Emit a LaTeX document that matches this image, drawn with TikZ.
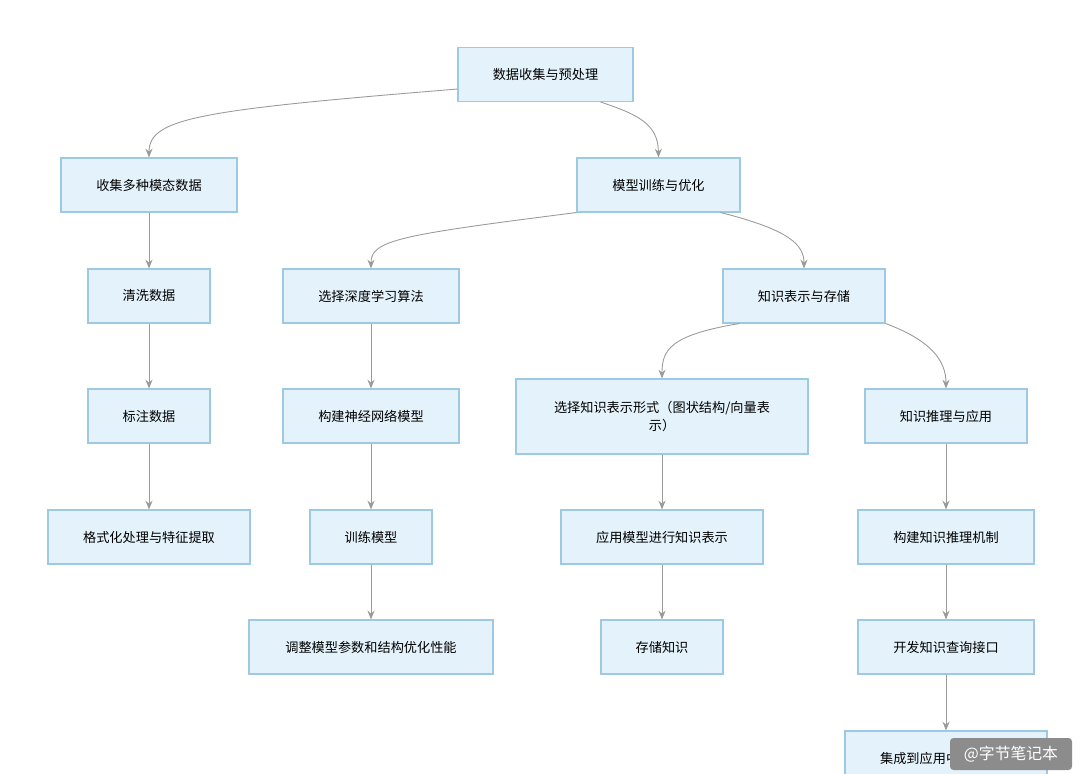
\documentclass[tikz,border=0pt]{standalone}
\usepackage{fontspec}
\newfontfamily\cjk{Noto Sans CJK SC}
\usetikzlibrary{arrows.meta,calc}
\definecolor{boxfill}{HTML}{E4F2FB}
\definecolor{boxline}{HTML}{9DC9E2}
\definecolor{linkgray}{HTML}{9A9A9A}
\tikzset{
  flowbox/.style={draw=boxline,fill=boxfill,line width=0.6pt,minimum height=54*0.02cm,
    inner sep=2pt,font=\cjk\fontsize{7.5}{10}\selectfont,align=center},
  link/.style={draw=linkgray,line width=0.5pt,-{Stealth[length=5pt,width=4pt]}}
}
\begin{document}
\begin{tikzpicture}[x=0.02cm,y=-0.02cm]
  \useasboundingbox (0,0) rectangle (1080,774);
  \clip (0,0) rectangle (1080,774);
  % boxes
  \node[flowbox,minimum width=175*0.02cm] (root) at (545.5,74.5) {数据收集与预处理};
  \node[flowbox,minimum width=176*0.02cm] (collect) at (149,185) {收集多种模态数据};
  \node[flowbox,minimum width=163*0.02cm] (train) at (658.5,185) {模型训练与优化};
  \node[flowbox,minimum width=122*0.02cm] (clean) at (149,296) {清洗数据};
  \node[flowbox,minimum width=176*0.02cm] (algo) at (371,296) {选择深度学习算法};
  \node[flowbox,minimum width=162*0.02cm] (know) at (804,296) {知识表示与存储};
  \node[flowbox,minimum width=122*0.02cm] (label) at (149,416) {标注数据};
  \node[flowbox,minimum width=176*0.02cm] (net) at (371,416) {构建神经网络模型};
  \node[flowbox,minimum width=292*0.02cm,minimum height=75*0.02cm,text width=250*0.02cm] (form) at (662,416.5) {选择知识表示形式（图状结构/向量表\\示）};
  \node[flowbox,minimum width=162*0.02cm] (infer) at (946,416) {知识推理与应用};
  \node[flowbox,minimum width=202*0.02cm] (feat) at (149,537) {格式化处理与特征提取};
  \node[flowbox,minimum width=122*0.02cm] (fit) at (371,537) {训练模型};
  \node[flowbox,minimum width=202*0.02cm] (apply) at (662,537) {应用模型进行知识表示};
  \node[flowbox,minimum width=176*0.02cm] (mech) at (946,537) {构建知识推理机制};
  \node[flowbox,minimum width=244*0.02cm] (tune) at (371,647) {调整模型参数和结构优化性能};
  \node[flowbox,minimum width=122*0.02cm] (store) at (662,647) {存储知识};
  \node[flowbox,minimum width=176*0.02cm] (query) at (946,647) {开发知识查询接口};
  \node[flowbox,minimum width=202*0.02cm] (serve) at (946,758) {集成到应用中提供服务};
  % links
  \draw[link] ($(root.south west)+(0,-13)$) .. controls (200,110) and (149,118) .. (collect.north);
  \draw[link] ($(root.south)+(55,0)$) .. controls (640,115) and (658,125) .. (train.north);
  \draw[link] (train.south west) .. controls (400,235) and (371,240) .. (algo.north);
  \draw[link] ($(train.south east)+(-20,0)$) .. controls (790,230) and (804,245) .. (know.north);
  \draw[link] ($(know.south west)+(17,0)$) .. controls (670,335) and (662,350) .. (form.north);
  \draw[link] (know.south east) .. controls (930,340) and (946,360) .. (infer.north);
  \foreach \a/\b in {collect/clean,clean/label,label/feat,algo/net,net/fit,fit/tune,
    form/apply,apply/store,infer/mech,mech/query,query/serve}
    \draw[link] (\a) -- (\b);
  % watermark
  \node[fill=black!45,rounded corners=2pt,text=white,minimum width=122*0.02cm,
    minimum height=32*0.02cm,font=\cjk\fontsize{9}{10}\selectfont] (mark) at (1011,754) {@字节笔记本};
\end{tikzpicture}
\end{document}
